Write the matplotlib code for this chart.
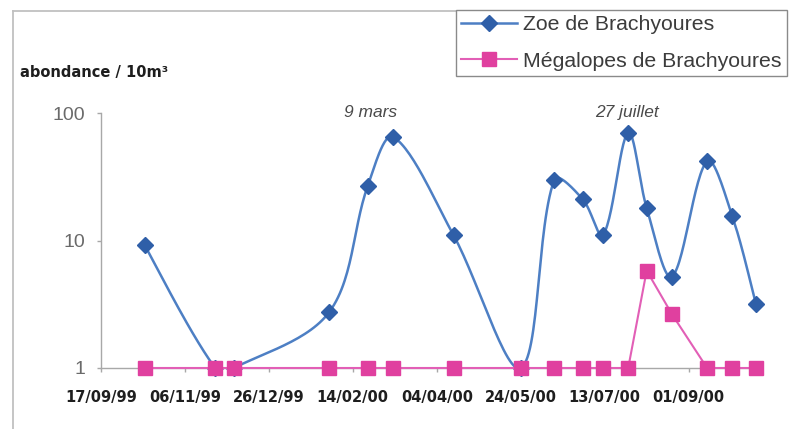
import numpy as np
import pandas as pd
import matplotlib
matplotlib.use("Agg")
import matplotlib.pyplot as plt
import matplotlib.dates as mdates
from matplotlib.lines import Line2D
from matplotlib import font_manager

# Sampling dates and abundances (per 10 m3)
sample_dates = ["1999-10-13", "1999-11-24", "1999-12-05", "2000-01-31", "2000-02-23",
                "2000-03-09", "2000-04-14", "2000-05-24", "2000-06-13", "2000-06-30",
                "2000-07-12", "2000-07-27", "2000-08-07", "2000-08-22", "2000-09-12",
                "2000-09-27", "2000-10-11"]
zoe = [9.2, 1, 1, 2.75, 27, 65, 11, 1, 30, 21, 11, 70, 18, 5.2, 42, 15.5, 3.2]
megalopes = [1, 1, 1, 1, 1, 1, 1, 1, 1, 1, 1, 1, 5.8, 2.65, 1, 1, 1]
series_names = ["Zoe de Brachyoures", "Mégalopes de Brachyoures"]

axis_start = "1999-09-17"
axis_end = "2000-10-12"
tick_step_days = 50
n_ticks = 8
y_ticks = [1, 10, 100]
y_title = "abondance / 10m³"

peak_labels = ["9 mars", "27 juillet"]
peak_dates = ["2000-03-09", "2000-07-27"]
peak_values = [65, 70]

available = {f.name for f in font_manager.fontManager.ttflist}


def pick(*names):
    for n in names:
        if n in available:
            return n
    return "DejaVu Sans"


narrow = pick("Liberation Sans Narrow", "DejaVu Sans Condensed", "DejaVu Sans")
narrow_size = {"Liberation Sans Narrow": 13.5, "DejaVu Sans Condensed": 11.5}.get(narrow, 10.5)
sans = pick("Liberation Sans", "Arial", "DejaVu Sans")

BLUE_LINE = "#4d7fc4"
BLUE_MARK = "#2f5fa8"
PINK_LINE = "#e25fb6"
PINK_MARK = "#e0409f"
AXIS_GREY = "#a8a8a8"

fig = plt.figure(figsize=(7.92, 4.29), dpi=100)
W, H = 792, 429
x0_px, x1_px, ytop_px, ybot_px = 100.9, 757.5, 113, 368
ax = fig.add_axes([x0_px / W, 1 - ybot_px / H, (x1_px - x0_px) / W, (ybot_px - ytop_px) / H])

x = mdates.date2num(pd.to_datetime(sample_dates))
ax.set_yscale("log")
ax.set_ylim(1, 100)
ax.set_xlim(mdates.date2num(pd.Timestamp(axis_start)), mdates.date2num(pd.Timestamp(axis_end)))

ticks = pd.Timestamp(axis_start) + pd.to_timedelta(np.arange(n_ticks) * tick_step_days, unit="D")
ax.set_xticks(mdates.date2num(ticks))
ax.xaxis.set_major_formatter(mdates.DateFormatter("%d/%m/%y"))
ax.set_yticks(y_ticks)
ax.set_yticklabels([str(v) for v in y_ticks])
ax.yaxis.set_minor_locator(matplotlib.ticker.NullLocator())

for s in ("top", "right"):
    ax.spines[s].set_visible(False)
for s in ("left", "bottom"):
    ax.spines[s].set_color(AXIS_GREY)
    ax.spines[s].set_linewidth(1.0)

ax.tick_params(axis="x", length=3, width=1, color=AXIS_GREY, pad=13, labelsize=narrow_size,
               labelcolor="#1e1e1e")
ax.tick_params(axis="y", length=3, width=1, color=AXIS_GREY, pad=8, labelsize=14,
               labelcolor="#6a6a6a")
for lab in ax.get_xticklabels():
    lab.set_fontfamily(narrow)
    lab.set_fontweight("bold")
for lab in ax.get_yticklabels():
    lab.set_fontfamily(sans)
fig.canvas.draw()


def smooth(ax, xs, ys, n=30):
    """Bezier smoothing through the points in display space; tangent handles are
    scaled by the length of the adjoining segment to limit overshoot."""
    pts = ax.transData.transform(np.column_stack([xs, ys]))
    m = len(pts)
    tang = np.zeros_like(pts)
    for i in range(m):
        a = pts[max(i - 1, 0)]
        b = pts[min(i + 1, m - 1)]
        tang[i] = b - a
    seglen = np.hypot(*np.diff(pts, axis=0).T)
    out = [pts[0]]
    t = np.linspace(0, 1, n)[1:, None]
    for i in range(m - 1):
        p1, p2 = pts[i], pts[i + 1]
        l_prev = seglen[i - 1] if i > 0 else seglen[i]
        l_next = seglen[i + 1] if i + 1 < m - 1 else seglen[i]
        l = seglen[i]
        c1 = p1 + tang[i] * (l / (l_prev + l)) / 3.0
        c2 = p2 - tang[i + 1] * (l / (l + l_next)) / 3.0
        seg = (1 - t) ** 3 * p1 + 3 * (1 - t) ** 2 * t * c1 + 3 * (1 - t) * t ** 2 * c2 + t ** 3 * p2
        out.extend(seg)
    return ax.transData.inverted().transform(np.array(out))


curve = smooth(ax, x, zoe)
ax.plot(curve[:, 0], curve[:, 1], color=BLUE_LINE, lw=1.8, zorder=3, solid_capstyle="round")
ax.plot(x, zoe, ls="none", marker="D", ms=8.0, mfc=BLUE_MARK, mec=BLUE_MARK, zorder=4, clip_on=False)
ax.plot(x, megalopes, color=PINK_LINE, lw=1.5, zorder=5, clip_on=False)
ax.plot(x, megalopes, ls="none", marker="s", ms=9.5, mfc=PINK_MARK, mec=PINK_MARK, zorder=6, clip_on=False)

ann_offsets = [(-16.5, 17.5), (-0.7, 14.5)]
for lab, d, v, off in zip(peak_labels, peak_dates, peak_values, ann_offsets):
    ax.annotate(lab, xy=(mdates.date2num(pd.Timestamp(d)), v), xytext=off, textcoords="offset points",
                ha="center", va="center", fontsize=12.5, style="italic", color="#4a4a4a",
                family=sans, annotation_clip=False)

fig.text(20 / W, 1 - 72 / H, y_title, ha="left", va="center", fontsize=10.5, fontweight="bold",
         color="#1e1e1e", family=narrow)

# chart frame (left and top edges)
fig.add_artist(Line2D([13 / W, 13 / W], [0, 1 - 11 / H], color="#c0c0c0", lw=1.3))
fig.add_artist(Line2D([13 / W, 456 / W], [1 - 11 / H, 1 - 11 / H], color="#c0c0c0", lw=1.3))

handles = [Line2D([], [], color=BLUE_LINE, lw=1.8, marker="D", ms=8.0, mfc=BLUE_MARK, mec=BLUE_MARK),
           Line2D([], [], color=PINK_LINE, lw=1.5, marker="s", ms=9.5, mfc=PINK_MARK, mec=PINK_MARK)]
leg = fig.legend(handles, series_names, loc="upper left", bbox_to_anchor=(456 / W, 1 - 10 / H),
                 frameon=True, fancybox=False, edgecolor="#8a8a8a", framealpha=1,
                 prop={"family": sans, "size": 15.3}, handlelength=2.6, handletextpad=0.3,
                 borderpad=0.25, labelspacing=0.82, borderaxespad=0)
leg.get_frame().set_linewidth(1.0)
for txt in leg.get_texts():
    txt.set_color("#3c3c3c")

fig.savefig("out.png", dpi=100, facecolor="white")
